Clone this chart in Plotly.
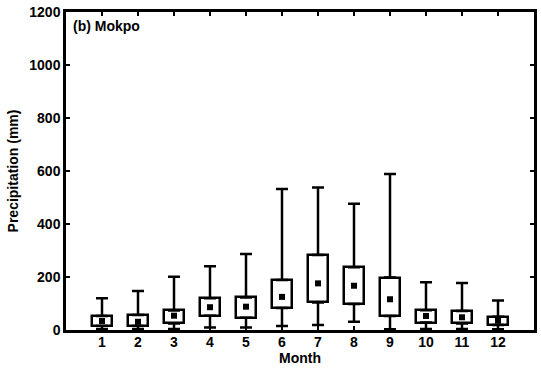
import plotly.graph_objects as go

# Monthly precipitation statistics at Mokpo (mm)
months = [1, 2, 3, 4, 5, 6, 7, 8, 9, 10, 11, 12]
month_labels = ["1", "2", "3", "4", "5", "6", "7", "8", "9", "10", "11", "12"]
whisker_low = [3, 3, 4, 9, 9, 15, 19, 31, 3, 4, 4, 3]
q1 = [15, 15, 25, 54, 46, 83, 104, 98, 53, 28, 25, 19]
median = [34, 31, 54, 86, 88, 125, 176, 167, 116, 53, 48, 35]
q3 = [53, 57, 74, 120, 123, 189, 283, 237, 198, 75, 72, 50]
whisker_high = [120, 147, 201, 241, 287, 532, 538, 476, 589, 180, 177, 111]

y_ticks = [0, 200, 400, 600, 800, 1000, 1200]

font_main = dict(family="Liberation Sans", size=14, color="black", weight="bold")

fig = go.Figure()

# Interquartile boxes
fig.add_trace(go.Bar(
    x=months,
    base=q1,
    y=[b - a for a, b in zip(q1, q3)],
    width=0.58,
    marker=dict(color="white", line=dict(color="black", width=2.5)),
    hoverinfo="skip",
    showlegend=False,
))

# Upper whiskers (from Q3 to the maximum)
fig.add_trace(go.Scatter(
    x=months, y=q3, mode="markers",
    marker=dict(size=1, color="rgba(0,0,0,0)"),
    error_y=dict(type="data", symmetric=False,
                 array=[h - t for h, t in zip(whisker_high, q3)],
                 arrayminus=[0] * len(months),
                 color="black", thickness=2.5, width=6),
    showlegend=False, hoverinfo="skip",
))

# Lower whiskers (from the minimum to Q1)
fig.add_trace(go.Scatter(
    x=months, y=q1, mode="markers",
    marker=dict(size=1, color="rgba(0,0,0,0)"),
    error_y=dict(type="data", symmetric=False,
                 array=[0] * len(months),
                 arrayminus=[b - lo for b, lo in zip(q1, whisker_low)],
                 color="black", thickness=2.5, width=6),
    showlegend=False, hoverinfo="skip",
))

# Central value markers
fig.add_trace(go.Scatter(
    x=months, y=median, mode="markers",
    marker=dict(symbol="square", size=6, color="black"),
    showlegend=False,
))

fig.add_annotation(
    text="(b) Mokpo", xref="paper", yref="paper", x=0.011, y=0.988,
    xanchor="left", yanchor="top", showarrow=False, font=font_main,
)

fig.update_layout(
    width=541, height=369,
    margin=dict(l=66, r=4, t=12, b=39),
    paper_bgcolor="white", plot_bgcolor="white",
    font=font_main,
    bargap=0,
)
fig.update_xaxes(
    range=[0, 13], tickmode="array", tickvals=months, ticktext=month_labels,
    ticks="inside", ticklen=4, tickwidth=1.5, tickcolor="black",
    ticklabelstandoff=-3,
    showline=True, linewidth=2.5, linecolor="black", mirror="allticks",
    showgrid=False, zeroline=False,
    title=dict(text="Month", font=font_main, standoff=3),
    tickfont=font_main,
)
fig.update_yaxes(
    range=[0, 1200], tickmode="array", tickvals=y_ticks,
    ticks="inside", ticklen=4, tickwidth=1.5, tickcolor="black",
    showline=True, linewidth=2.5, linecolor="black", mirror="allticks",
    showgrid=False, zeroline=False,
    title=dict(text="Precipitation (mm)", font=font_main, standoff=8),
    tickfont=font_main,
)

fig.write_html("out.html")
